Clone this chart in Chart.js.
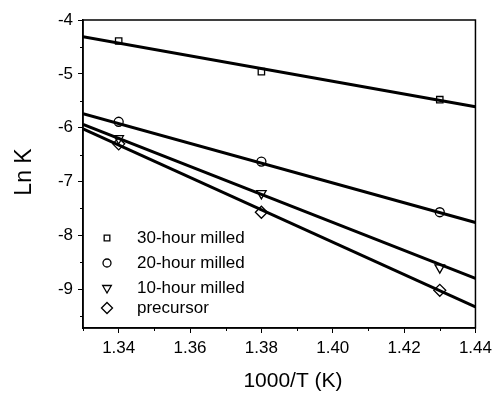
<!DOCTYPE html>
<html>
<head>
<meta charset="utf-8">
<script src="https://cdn.jsdelivr.net/npm/chart.js@4.4.1/dist/chart.umd.min.js"></script>
<style>
  html, body { margin: 0; padding: 0; background: #fff; }
  #wrap { width: 497px; height: 395px; position: relative; }
</style>
</head>
<body>
<div id="wrap"><canvas id="arrhenius"></canvas></div>
<script>
// measured points (1000/T vs ln K)
const xVals = [1.34, 1.38, 1.43];
const milled30 = [-4.39, -4.96, -5.48];
const milled20 = [-5.89, -6.63, -7.57];
const milled10 = [-6.20, -7.22, -8.60];
const precursor = [-6.30, -7.57, -9.02];

// fitted lines, read at the ends of the axis
const fitX = [1.33, 1.44];
const fit30 = [-4.31, -5.61];
const fit20 = [-5.74, -7.76];
const fit10 = [-5.94, -8.80];
const fitPre = [-6.02, -9.33];

const xTicks = [1.34, 1.36, 1.38, 1.40, 1.42, 1.44];
const yTicks = [-4, -5, -6, -7, -8, -9];
const seriesNames = ["30-hour milled", "20-hour milled", "10-hour milled", "precursor"];

const pts = ys => xVals.map((x, i) => ({ x, y: ys[i] }));
const fit = ys => fitX.map((x, i) => ({ x, y: ys[i] }));

const markers = [
  { pointStyle: "rect", rotation: 0, radius: 4.5 },
  { pointStyle: "circle", rotation: 0, radius: 4.5 },
  { pointStyle: "triangle", rotation: 180, radius: 5.5 },
  { pointStyle: "rectRot", rotation: 0, radius: 6 }
];

const lineSet = ys => ({
  type: "line", data: fit(ys), borderColor: "#000", borderWidth: 3,
  pointRadius: 0, fill: false, tension: 0
});
const pointSet = (ys, k) => ({
  type: "scatter", data: pts(ys), showLine: false,
  pointStyle: markers[k].pointStyle, rotation: markers[k].rotation,
  pointRadius: markers[k].radius, borderColor: "#000", borderWidth: 1.3,
  backgroundColor: "rgba(0,0,0,0)"
});

// frame, minor ticks, titles and the inset legend
const extras = {
  id: "extras",
  afterDraw(chart) {
    const { ctx, chartArea: a, scales } = chart;
    const x = scales.x, y = scales.y;
    ctx.save();
    ctx.strokeStyle = "#000";
    ctx.lineWidth = 1.5;
    ctx.strokeRect(a.left, a.top, a.right - a.left, a.bottom - a.top);

    ctx.lineWidth = 1;
    ctx.beginPath();
    for (let v = 1.33; v < 1.445; v += 0.02) {
      const px = Math.round(x.getPixelForValue(v)) + 0.5;
      ctx.moveTo(px, a.bottom); ctx.lineTo(px, a.bottom + 3);
    }
    for (let v = -4.5; v > -9.8; v -= 1) {
      const py = Math.round(y.getPixelForValue(v)) + 0.5;
      ctx.moveTo(a.left, py); ctx.lineTo(a.left - 3, py);
    }
    ctx.stroke();

    ctx.fillStyle = "#000";
    ctx.textAlign = "center";
    ctx.textBaseline = "middle";
    ctx.font = "21px 'Liberation Sans', Arial, sans-serif";
    ctx.fillText("1000/T (K)", 293, 381);
    ctx.save();
    ctx.translate(25, 172);
    ctx.rotate(-Math.PI / 2);
    ctx.font = "23px 'Liberation Sans', Arial, sans-serif";
    ctx.fillText("Ln K", 0, 0);
    ctx.restore();

    const rows = [238, 263, 288, 308];
    ctx.font = "17px 'Liberation Sans', Arial, sans-serif";
    ctx.textAlign = "left";
    seriesNames.forEach((name, k) => {
      const m = markers[k];
      ctx.fillStyle = "rgba(0,0,0,0)";
      ctx.strokeStyle = "#000";
      ctx.lineWidth = 1.3;
      Chart.helpers.drawPoint(ctx, {
        pointStyle: m.pointStyle, rotation: m.rotation, radius: m.radius - 0.5, borderWidth: 1.3
      }, 107, rows[k]);
      ctx.fillStyle = "#000";
      ctx.fillText(name, 137, rows[k]);
    });
    ctx.restore();
  }
};

new Chart(document.getElementById("arrhenius"), {
  data: {
    datasets: [
      lineSet(fit30), lineSet(fit20), lineSet(fit10), lineSet(fitPre),
      pointSet(milled30, 0), pointSet(milled20, 1), pointSet(milled10, 2), pointSet(precursor, 3)
    ]
  },
  options: {
    responsive: true,
    maintainAspectRatio: false,
    animation: false,
    layout: { padding: { top: 20, right: 20, left: 0, bottom: 0 } },
    plugins: { legend: { display: false }, tooltip: { enabled: false } },
    scales: {
      x: {
        type: "linear", min: 1.33, max: 1.44,
        afterBuildTicks: s => { s.ticks = xTicks.map(v => ({ value: v })); },
        afterFit: s => { s.height = 67; },
        grid: { drawOnChartArea: false, tickLength: 5, tickColor: "#000", tickWidth: 1 },
        border: { color: "#000", width: 1.5 },
        ticks: {
          color: "#000", padding: 5,
          font: { family: "'Liberation Sans', Arial, sans-serif", size: 17 },
          callback: v => v.toFixed(2)
        }
      },
      y: {
        type: "linear", min: -9.72, max: -4,
        afterBuildTicks: s => { s.ticks = yTicks.map(v => ({ value: v })); },
        afterFit: s => { s.width = 83; },
        grid: { drawOnChartArea: false, tickLength: 5, tickColor: "#000", tickWidth: 1 },
        border: { color: "#000", width: 1.5 },
        ticks: {
          color: "#000", padding: 5,
          font: { family: "'Liberation Sans', Arial, sans-serif", size: 17 },
          callback: v => String(v)
        }
      }
    }
  },
  plugins: [extras]
});
</script>
</body>
</html>
